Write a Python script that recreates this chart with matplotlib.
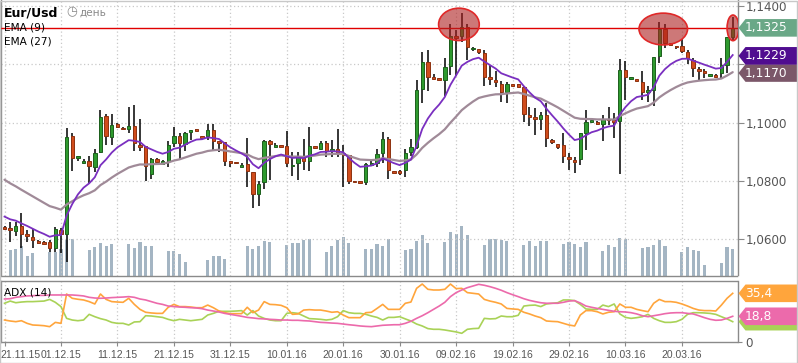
import numpy as np
import pandas as pd
import matplotlib
matplotlib.use("Agg")
import matplotlib.pyplot as plt
from matplotlib.patches import Ellipse, Polygon, Rectangle

# ---------------- data ----------------
start_date = "2015-11-21"
n_days = 130
dates = pd.date_range(start_date, periods=n_days, freq="D")

opens = [1.0642, 1.0638, 1.0627, 1.0646, 1.0618, 1.0606, 1.0593, 1.0591, 1.0589, 1.0570,
         1.0631, 1.0617, 1.0954, 1.0878, 1.0862, 1.0869, 1.0848, 1.0898, 1.1022, 1.0951,
         1.0994, 1.0982, 1.0979, 1.0988, 1.0924, 1.0919, 1.0824, 1.0875, 1.0857, 1.0869,
         1.0929, 1.0954, 1.0926, 1.0968, 1.0978, 1.0954, 1.0954, 1.0974, 1.0936, 1.0933,
         1.0869, 1.0864, 1.0848, 1.0858, 1.0829, 1.0756, 1.0795, 1.0936, 1.0917, 1.0922,
         1.0919, 1.0850, 1.0860, 1.0885, 1.0869, 1.0919, 1.0911, 1.0931, 1.0902, 1.0911,
         1.0894, 1.0888, 1.0800, 1.0799, 1.0797, 1.0855, 1.0862, 1.0896, 1.0943, 1.0834,
         1.0834, 1.0837, 1.0899, 1.0917, 1.1114, 1.1208, 1.1155, 1.1152, 1.1146, 1.1194,
         1.1297, 1.1297, 1.1329, 1.1251, 1.1251, 1.1240, 1.1156, 1.1146, 1.1132, 1.1104,
         1.1132, 1.1132, 1.1121, 1.1026, 1.1020, 1.1011, 1.1025, 1.0940, 1.0925, 1.0923,
         1.0883, 1.0871, 1.0874, 1.0965, 1.1002, 1.1001, 1.0996, 1.1014, 1.1009, 1.1006,
         1.1180, 1.1149, 1.1149, 1.1139, 1.1106, 1.1112, 1.1229, 1.1320, 1.1272, 1.1264,
         1.1263, 1.1241, 1.1215, 1.1184, 1.1177, 1.1161, 1.1163, 1.1171, 1.1196, 1.1295]
highs = [1.0645, 1.0659, 1.0659, 1.0689, 1.0631, 1.0634, 1.0596, 1.0593, 1.0596, 1.0642,
         1.0637, 1.0980, 1.0964, 1.0886, 1.0876, 1.0885, 1.0911, 1.1043, 1.1031, 1.1031,
         1.0999, 1.0985, 1.1052, 1.1060, 1.1011, 1.0919, 1.0878, 1.0878, 1.0871, 1.0938,
         1.0984, 1.0963, 1.0968, 1.0974, 1.0978, 1.0954, 1.0994, 1.0994, 1.0936, 1.0933,
         1.0869, 1.0864, 1.0860, 1.0946, 1.0829, 1.0799, 1.0940, 1.0940, 1.0931, 1.0922,
         1.0971, 1.0900, 1.0900, 1.0942, 1.0986, 1.0919, 1.0936, 1.0936, 1.0940, 1.0977,
         1.0923, 1.0888, 1.0800, 1.0799, 1.0860, 1.0874, 1.0911, 1.0968, 1.0951, 1.0835,
         1.0839, 1.0908, 1.0942, 1.1146, 1.1243, 1.1249, 1.1166, 1.1153, 1.1221, 1.1338,
         1.1318, 1.1377, 1.1337, 1.1258, 1.1251, 1.1249, 1.1197, 1.1178, 1.1143, 1.1140,
         1.1132, 1.1132, 1.1125, 1.1052, 1.1049, 1.1037, 1.1066, 1.0942, 1.0925, 1.0963,
         1.0894, 1.0883, 1.0963, 1.1043, 1.1011, 1.1006, 1.1026, 1.1054, 1.1032, 1.1217,
         1.1211, 1.1155, 1.1149, 1.1177, 1.1125, 1.1226, 1.1346, 1.1338, 1.1272, 1.1264,
         1.1286, 1.1249, 1.1222, 1.1192, 1.1183, 1.1166, 1.1166, 1.1222, 1.1295, 1.1363]
lows = [1.0633, 1.0590, 1.0610, 1.0568, 1.0591, 1.0568, 1.0584, 1.0583, 1.0556, 1.0556,
        1.0551, 1.0522, 1.0835, 1.0869, 1.0858, 1.0793, 1.0832, 1.0896, 1.0923, 1.0923,
        1.0980, 1.0974, 1.0963, 1.0903, 1.0903, 1.0800, 1.0805, 1.0861, 1.0854, 1.0846,
        1.0917, 1.0871, 1.0903, 1.0940, 1.0971, 1.0947, 1.0940, 1.0903, 1.0900, 1.0852,
        1.0848, 1.0858, 1.0846, 1.0780, 1.0708, 1.0714, 1.0771, 1.0803, 1.0917, 1.0915,
        1.0846, 1.0816, 1.0803, 1.0837, 1.0835, 1.0909, 1.0906, 1.0883, 1.0883, 1.0883,
        1.0780, 1.0789, 1.0795, 1.0792, 1.0786, 1.0851, 1.0848, 1.0860, 1.0808, 1.0827,
        1.0820, 1.0814, 1.0885, 1.0911, 1.1068, 1.1109, 1.1146, 1.1146, 1.1091, 1.1163,
        1.1160, 1.1277, 1.1215, 1.1246, 1.1234, 1.1125, 1.1129, 1.1121, 1.1071, 1.1066,
        1.1125, 1.1122, 1.1003, 1.0988, 1.0957, 1.0974, 1.0915, 1.0926, 1.0911, 1.0860,
        1.0839, 1.0826, 1.0854, 1.0906, 1.0999, 1.0991, 1.0937, 1.0991, 1.0946, 1.0822,
        1.1077, 1.1146, 1.1143, 1.1077, 1.1071, 1.1057, 1.1205, 1.1257, 1.1266, 1.1251,
        1.1238, 1.1200, 1.1155, 1.1144, 1.1154, 1.1161, 1.1155, 1.1154, 1.1171, 1.1281]
closes = [1.0635, 1.0631, 1.0645, 1.0616, 1.0611, 1.0597, 1.0587, 1.0585, 1.0570, 1.0634,
          1.0616, 1.0949, 1.0879, 1.0885, 1.0869, 1.0852, 1.0896, 1.1018, 1.0954, 1.0991,
          1.0986, 1.0977, 1.0989, 1.0929, 1.0917, 1.0850, 1.0875, 1.0865, 1.0867, 1.0923,
          1.0954, 1.0929, 1.0965, 1.0974, 1.0972, 1.0948, 1.0974, 1.0937, 1.0931, 1.0869,
          1.0862, 1.0860, 1.0854, 1.0835, 1.0756, 1.0789, 1.0936, 1.0925, 1.0923, 1.0915,
          1.0860, 1.0856, 1.0885, 1.0869, 1.0919, 1.0912, 1.0931, 1.0903, 1.0911, 1.0896,
          1.0888, 1.0800, 1.0795, 1.0793, 1.0858, 1.0862, 1.0892, 1.0943, 1.0837, 1.0828,
          1.0827, 1.0894, 1.0916, 1.1112, 1.1208, 1.1157, 1.1148, 1.1146, 1.1192, 1.1297,
          1.1291, 1.1329, 1.1260, 1.1255, 1.1243, 1.1157, 1.1148, 1.1138, 1.1104, 1.1132,
          1.1126, 1.1123, 1.1031, 1.1020, 1.1011, 1.1025, 1.0946, 1.0934, 1.0917, 1.0886,
          1.0874, 1.0865, 1.0963, 1.1003, 1.1009, 1.0995, 1.1014, 1.1009, 1.1002, 1.1180,
          1.1155, 1.1155, 1.1144, 1.1106, 1.1112, 1.1224, 1.1320, 1.1274, 1.1266, 1.1258,
          1.1247, 1.1222, 1.1186, 1.1178, 1.1170, 1.1166, 1.1157, 1.1196, 1.1293, 1.1325]
volumes = [0, 25.3, 26.3, 29.3, 19.3, 22.3, 0, 0, 23.6, 23.6,
           27.0, 36.0, 37.0, 0, 0, 25.3, 28.6, 32.3, 29.6, 31.3,
           0, 0, 31.3, 27.6, 33.3, 29.6, 29.6, 0, 0, 24.3,
           24.3, 22.0, 14.0, 0, 0, 0, 15.3, 19.3, 19.3, 16.3,
           0, 0, 0, 29.3, 26.3, 29.3, 34.3, 33.6, 0, 0,
           30.3, 32.3, 32.3, 35.3, 36.3, 0, 0, 23.3, 29.3, 35.3,
           38.3, 32.3, 0, 0, 27.0, 27.0, 31.3, 29.3, 36.3, 0,
           0, 25.3, 26.3, 34.6, 40.3, 32.3, 0, 0, 33.3, 43.3,
           42.0, 49.3, 40.3, 0, 0, 30.3, 36.3, 36.3, 35.3, 34.3,
           0, 0, 30.3, 34.3, 29.3, 34.3, 34.3, 0, 0, 31.3,
           33.3, 31.3, 28.3, 33.3, 0, 0, 24.3, 30.3, 28.3, 37.3,
           36.3, 0, 0, 27.3, 28.3, 30.3, 35.3, 29.3, 0, 0,
           23.3, 28.3, 25.3, 24.3, 10.3, 0, 0, 12.3, 28.3, 26.3]

# EMA values carried in from before the visible window
ema9_start = 1.0688
ema27_start = 1.0817
ema9_label = 1.1229
ema27_label = 1.1170
resistance = 1.1325

plus_di = [16.1, 15.4, 14.9, 15.6, 13.7, 12.5, 12.3, 12.0, 11.3, 14.4,
           13.7, 34.9, 31.8, 31.1, 30.6, 29.4, 27.7, 34.9, 31.0, 29.4,
           29.1, 28.9, 31.8, 27.4, 23.8, 21.7, 21.2, 20.9, 20.9, 25.3,
           27.4, 25.8, 25.8, 25.5, 25.0, 25.0, 26.9, 25.0, 22.6, 21.4,
           20.7, 20.7, 20.7, 25.3, 21.4, 23.3, 29.4, 27.4, 27.2, 26.7,
           25.0, 20.2, 20.5, 23.3, 23.6, 23.3, 23.3, 22.6, 21.7, 22.1,
           19.7, 17.8, 17.8, 17.8, 21.4, 21.7, 24.5, 27.4, 23.8, 23.8,
           23.8, 28.2, 29.1, 39.0, 42.1, 38.3, 37.8, 37.8, 38.3, 42.1,
           38.8, 39.0, 35.9, 35.4, 34.9, 31.0, 29.8, 28.9, 27.7, 24.5,
           24.1, 23.8, 21.7, 20.5, 19.0, 17.8, 15.4, 15.1, 14.9, 13.7,
           12.5, 11.8, 19.7, 22.9, 22.9, 22.1, 20.5, 21.7, 22.1, 27.7,
           25.3, 25.3, 23.8, 22.9, 22.1, 28.2, 31.0, 29.4, 29.4, 28.9,
           27.7, 26.2, 24.5, 23.3, 22.9, 22.9, 22.6, 26.9, 31.8, 35.4]
minus_di = [28.2, 29.8, 28.6, 29.1, 29.4, 29.4, 29.6, 29.8, 31.0, 28.9,
            25.8, 17.3, 16.1, 15.6, 16.1, 20.2, 18.5, 17.1, 16.1, 14.4,
            13.7, 13.7, 12.5, 14.7, 14.9, 19.2, 19.0, 18.5, 18.0, 16.6,
            15.6, 16.6, 16.1, 15.6, 16.1, 16.6, 19.7, 20.9, 22.4, 22.4,
            22.4, 22.6, 22.9, 19.7, 22.9, 19.0, 17.3, 16.1, 15.6, 15.6,
            20.9, 21.4, 20.9, 19.0, 17.1, 16.9, 16.6, 16.1, 16.6, 18.5,
            22.9, 21.4, 20.9, 20.9, 20.2, 19.0, 18.0, 16.1, 18.0, 18.0,
            18.5, 16.9, 15.4, 13.2, 11.8, 9.9, 9.4, 9.4, 8.9, 8.2,
            7.5, 6.5, 9.4, 9.9, 10.1, 17.3, 16.9, 17.1, 19.0, 18.5,
            18.5, 19.5, 26.2, 26.7, 26.9, 25.8, 27.7, 28.2, 28.6, 30.6,
            30.6, 30.1, 27.4, 24.1, 23.8, 23.8, 26.9, 25.8, 27.7, 20.5,
            18.0, 17.3, 17.8, 18.5, 20.2, 17.3, 15.6, 14.4, 14.4, 14.9,
            16.6, 20.2, 21.4, 21.4, 21.2, 20.9, 20.2, 18.5, 16.9, 14.9]
adx = [31.3, 31.5, 32.5, 33.0, 33.5, 33.7, 33.9, 33.9, 34.2, 34.2,
       34.2, 34.2, 34.2, 33.9, 33.5, 32.5, 32.0, 31.8, 32.0, 32.3,
       32.5, 32.7, 33.0, 32.5, 31.3, 30.6, 29.4, 28.2, 27.4, 26.2,
       25.8, 25.5, 25.3, 25.0, 24.8, 24.3, 23.3, 22.6, 21.9, 20.9,
       20.2, 19.5, 18.8, 18.0, 17.6, 17.1, 16.9, 16.6, 16.4, 16.1,
       16.1, 15.9, 15.9, 15.6, 15.4, 14.9, 14.4, 14.2, 13.9, 13.7,
       13.2, 12.7, 12.3, 11.8, 11.5, 11.3, 11.8, 12.3, 12.5, 12.7,
       12.7, 13.7, 15.2, 17.3, 19.2, 21.4, 23.8, 26.2, 28.9, 33.0,
       35.9, 37.8, 39.5, 40.7, 41.9, 41.2, 40.2, 39.0, 37.6, 35.9,
       34.4, 33.0, 31.5, 30.3, 29.4, 28.6, 28.2, 28.2, 28.2, 28.9,
       29.8, 30.1, 28.4, 26.2, 25.3, 24.5, 23.8, 23.1, 22.4, 22.1,
       21.9, 21.4, 20.5, 19.2, 18.5, 19.2, 19.9, 20.7, 21.2, 21.4,
       21.4, 20.9, 20.5, 19.2, 17.8, 16.6, 15.9, 16.1, 17.3, 18.8]

price_ticks = [1.06, 1.08, 1.10, 1.12, 1.14]
hidden_price_labels = [1.12]   # covered by the value tags in the original
date_tick_step = 10
title = "Eur/Usd"
period_label = "день"
ema_labels = ["EMA (9)", "EMA (27)"]
adx_label = "ADX (14)"

# ---------------- derived ----------------
x = np.arange(n_days)
o, h, l, c = map(np.array, (opens, highs, lows, closes))


def ema(values, start, n):
    k = 2.0 / (n + 1)
    out, e = [], start
    for v in values:
        e = e + k * (v - e)
        out.append(e)
    return np.array(out)


ema9 = ema(closes, ema9_start, 9)
ema27 = ema(closes, ema27_start, 27)

# ---------------- figure ----------------
W, H = 798, 363
fig = plt.figure(figsize=(W / 100, H / 100), dpi=100)
fig.patch.set_facecolor("white")

GRID = "#c9c9c9"
FRAME = "#8a8a8a"
TXT = "#555555"
LABEL_FONT = "DejaVu Sans"
DATE_FONT = "Liberation Sans"

main_rect = [0.5 / W, 1 - 275.5 / H, 737 / W, 275.5 / H]
axv = fig.add_axes(main_rect)
ax = fig.add_axes(main_rect, sharex=axv)
ax.set_zorder(axv.get_zorder() + 1)
ax.patch.set_visible(False)

xlim = (-0.71, 129.85)
axv.set_xlim(*xlim)
ax.set_ylim(1.04753, 1.14206)
axv.set_ylim(0, 275.5)

# volume bars
vol = np.array(volumes)
mask = vol > 0
axv.bar(x[mask], vol[mask], width=0.56, color="#a4b5c3", zorder=1)
axv.set_yticks([])
axv.tick_params(left=False, bottom=False, labelbottom=False)
for s in axv.spines.values():
    s.set_visible(False)

# grid
date_ticks = list(range(0, n_days, date_tick_step))
for p in price_ticks:
    ax.axhline(p, color=GRID, lw=0.9, ls=(0, (1, 2)), zorder=0.5)
for t in date_ticks:
    ax.axvline(t, color=GRID, lw=0.9, ls=(0, (1, 2)), zorder=0.5)

# candles
up = c >= o
body_lo = np.minimum(o, c)
body_h = np.maximum(np.abs(c - o), 0.0005)
ax.vlines(x, l, h, color="black", lw=1.1, zorder=2)
ax.bar(x[up], body_h[up], bottom=body_lo[up], width=0.6, color="#2e9a2e",
       edgecolor="#1d5f1d", lw=0.7, zorder=3)
ax.bar(x[~up], body_h[~up], bottom=body_lo[~up], width=0.6, color="#d04c1c",
       edgecolor="#8e3210", lw=0.7, zorder=3)

# EMAs
ax.plot(x, ema27, color="#a08a98", lw=1.6, zorder=4, solid_capstyle="round")
ax.plot(x, ema9, color="#7a2fc0", lw=1.3, zorder=4.1)

# resistance line
ax.axhline(resistance, color="#e00000", lw=1.0, zorder=5)

# highlight ellipses over the tops touching the resistance
highlights = [(76.9, 84.1, 1.1337, 0.0111), (112.4, 121.0, 1.1321, 0.0109),
              (128.0, 130.1, 1.1325, 0.0088)]
for x0, x1, yc, hh in highlights:
    ax.add_patch(Ellipse(((x0 + x1) / 2, yc), x1 - x0, hh,
                         facecolor=(0.68, 0.12, 0.12, 0.6), edgecolor="#e02828",
                         lw=1.2, zorder=6))

# axes styling
ax.yaxis.tick_right()
ax.set_yticks(price_ticks)
ax.set_yticklabels(["" if p in hidden_price_labels else f"{p:.4f}".replace(".", ",")
                    for p in price_ticks],
                   fontsize=8.6, color=TXT, family=LABEL_FONT)
ax.tick_params(axis="y", direction="out", length=4, width=0.8, color=FRAME, pad=2)
ax.tick_params(axis="x", bottom=False, labelbottom=False)
for side in ("left", "right", "bottom"):
    ax.spines[side].set_color(FRAME)
    ax.spines[side].set_linewidth(1.0)
ax.spines["top"].set_visible(False)

# ---------------- ADX panel ----------------
ax2 = fig.add_axes([0.5 / W, 1 - 342.3 / H, 737 / W, 61.3 / H], sharex=axv)
ax2.set_ylim(0, 44.3)
for t in date_ticks:
    ax2.axvline(t, color=GRID, lw=0.9, ls=(0, (1, 2)), zorder=0.5)
ax2.plot(x, minus_di, color="#a9d257", lw=1.2, zorder=2)
ax2.plot(x, plus_di, color="#ffa53c", lw=1.2, zorder=3)
ax2.plot(x, adx, color="#ec6aab", lw=1.2, zorder=4)
ax2.yaxis.tick_right()
ax2.set_yticks([0])
ax2.set_yticklabels(["0"], fontsize=8.6, color=TXT, family=LABEL_FONT)
ax2.set_xticks(date_ticks)
date_labels = [dates[t].strftime("%d.%m.%y") for t in date_ticks]
ax2.set_xticklabels([""] + date_labels[1:], fontsize=7.5, color=TXT, family=DATE_FONT)
ax2.tick_params(axis="both", direction="out", length=3, width=0.8, color=FRAME, pad=2.5)
for s in ax2.spines.values():
    s.set_color(FRAME)
    s.set_linewidth(1.0)
ax2.set_xlim(*xlim)
# first date label is pushed right so that it stays inside the picture
fig.text(0.5 / W, 1 - 355 / H, date_labels[0], fontsize=7.5, color=TXT,
         family=DATE_FONT, ha="left", va="center")

# ---------------- value tags ----------------
fig.canvas.draw()
inv = fig.transFigure.inverted()
tag_z = [20]


def tag(axis, value, text, color):
    yd = axis.transData.transform((0, value))[1]
    yf = inv.transform((0, yd))[1]
    hh = 8.8 / H
    xl, xn, xr = 738.5 / W, 745.5 / W, 797.0 / W
    z = tag_z[0]
    poly = Polygon([(xl, yf), (xn, yf + hh), (xr, yf + hh), (xr, yf - hh), (xn, yf - hh)],
                   closed=True, transform=fig.transFigure, facecolor=color,
                   edgecolor="none", zorder=z)
    fig.add_artist(poly)
    if text:
        fig.text(745 / W, yf, text, color="white", fontsize=8.8, family=LABEL_FONT,
                 va="center", ha="left", zorder=z + 0.5)
    tag_z[0] += 1


tag(ax, resistance, f"{resistance:.4f}".replace(".", ","), "#6aa887")
tag(ax, ema27_label, f"{ema27_label:.4f}".replace(".", ","), "#7b5769")
tag(ax, ema9_label, f"{ema9_label:.4f}".replace(".", ","), "#500d90")
# the -DI tag sits underneath the ADX tag; its number is hidden in the original
tag(ax2, minus_di[-1], "", "#a9d257")
tag(ax2, adx[-1], f"{adx[-1]:.1f}".replace(".", ","), "#ec6aab")
tag(ax2, plus_di[-1], f"{plus_di[-1]:.1f}".replace(".", ","), "#ffa53c")

# ---------------- header texts ----------------
fig.text(4 / W, 1 - 13 / H, title, fontsize=9, fontweight="bold", family="DejaVu Sans",
         va="center", ha="left", color="black")
fig.text(66 / W, 1 - 12 / H, "\u25F7", fontsize=9, family="DejaVu Sans",
         va="center", ha="left", color="#8a8a8a")
fig.text(80 / W, 1 - 13 / H, period_label, fontsize=7.6, family="DejaVu Sans",
         va="center", ha="left", color="#8a8a8a")
fig.text(4 / W, 1 - 27 / H, ema_labels[0], fontsize=7.6, family="DejaVu Sans",
         va="center", ha="left", color="black")
fig.text(4 / W, 1 - 42 / H, ema_labels[1], fontsize=7.6, family="DejaVu Sans",
         va="center", ha="left", color="black")
fig.text(4 / W, 1 - 292.5 / H, adx_label, fontsize=7.6, family="DejaVu Sans",
         va="center", ha="left", color="black")

# outer frame
fig.add_artist(Rectangle((0, 0), 1 - 1 / W, 1 - 0.5 / H, transform=fig.transFigure,
                         fill=False, edgecolor="#c8c8c8", lw=1.0, zorder=30))

fig.savefig("out.png", dpi=100, facecolor="white")
